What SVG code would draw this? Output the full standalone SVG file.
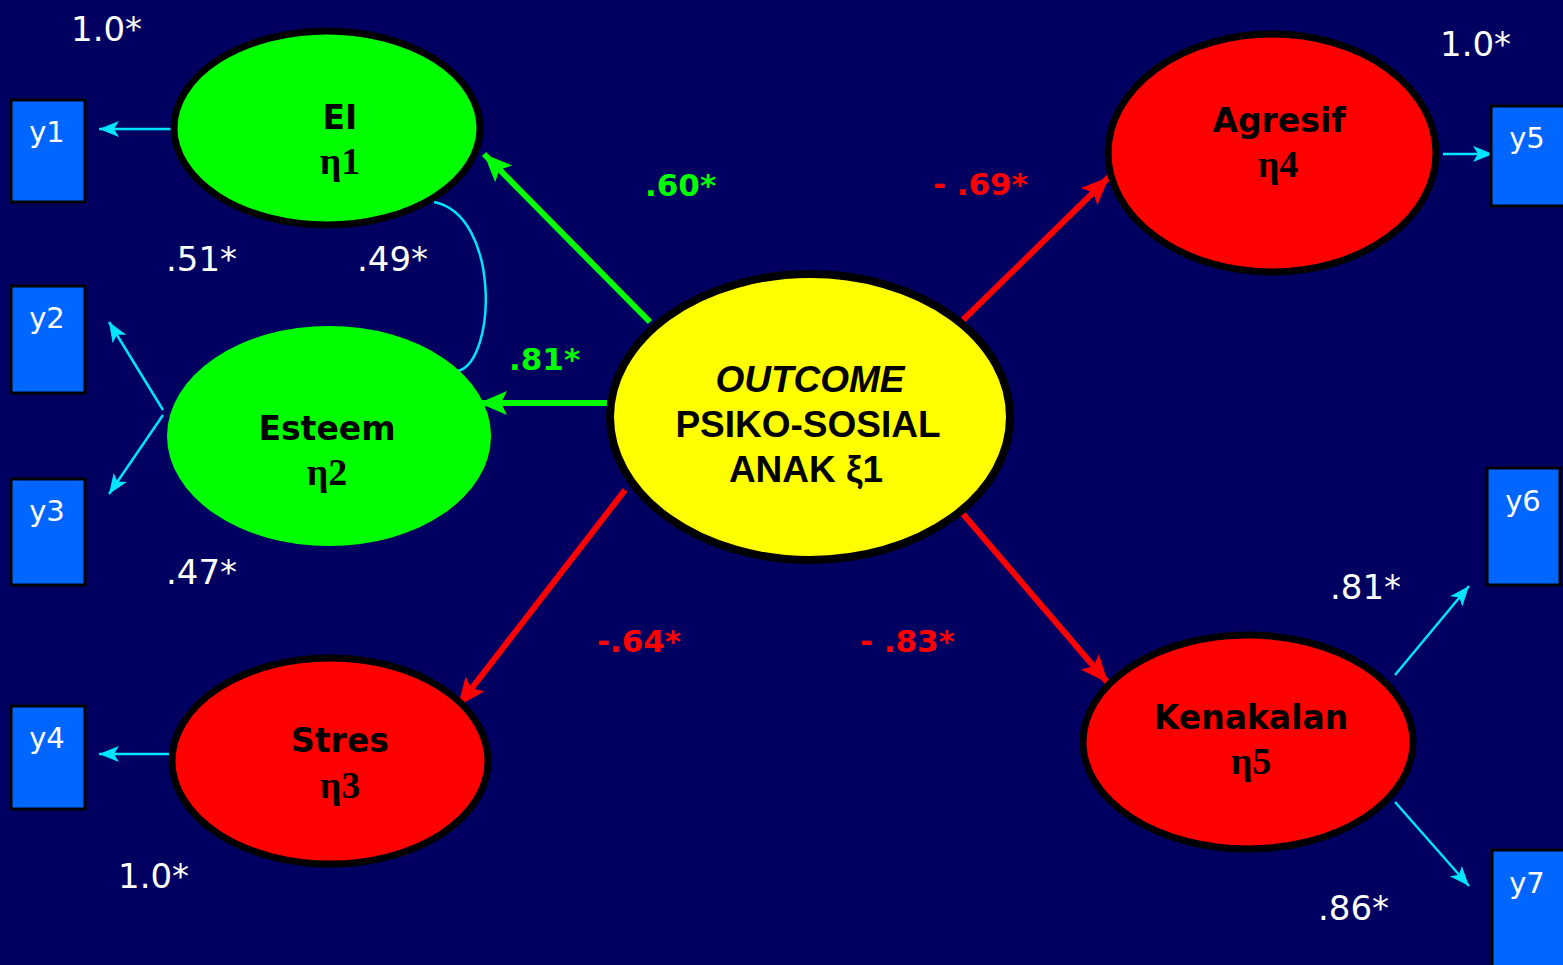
<svg xmlns="http://www.w3.org/2000/svg" width="1563" height="965" viewBox="0 0 1563 965">
<defs>
<style>
.bg{fill:#000060}
.lat{stroke:#000;stroke-width:7}
.box{fill:#0066ff;stroke:#000;stroke-width:3}
.bt{font-family:"DejaVu Sans",Verdana,sans-serif;font-size:29px;fill:#fff;text-anchor:middle}
.num{font-family:"DejaVu Sans",Verdana,sans-serif;font-size:34px;fill:#fff}
.coef{font-family:"DejaVu Sans",Verdana,sans-serif;font-size:31px;font-weight:bold}
.name{font-family:"DejaVu Sans",Verdana,sans-serif;font-size:33px;font-weight:bold;fill:#000;text-anchor:middle}
.eta{font-family:"Liberation Serif","Times New Roman",serif;font-size:38px;font-weight:bold;fill:#000;text-anchor:middle}
.out{font-family:"Liberation Sans",Arial,sans-serif;font-size:37px;font-weight:bold;fill:#000;text-anchor:middle}
.cy{stroke:#00e5ff;stroke-width:2.5;fill:none}
.gr{stroke:#00ff00;stroke-width:6;fill:none}
.rd{stroke:#ff0000;stroke-width:6;fill:none}
</style>
<marker id="ac" markerUnits="userSpaceOnUse" markerWidth="22" markerHeight="22" viewBox="0 0 22 22" refX="20" refY="11" orient="auto"><path d="M0,3 L20,11 L0,19 L5,11 Z" fill="#00e5ff"/></marker>
<marker id="ag" markerUnits="userSpaceOnUse" markerWidth="30" markerHeight="30" viewBox="0 0 30 30" refX="28" refY="15" orient="auto"><path d="M0,3 L28,15 L0,27 L6,15 Z" fill="#00ff00"/></marker>
<marker id="ar" markerUnits="userSpaceOnUse" markerWidth="30" markerHeight="30" viewBox="0 0 30 30" refX="28" refY="15" orient="auto"><path d="M0,3 L28,15 L0,27 L6,15 Z" fill="#ff0000"/></marker>
</defs>
<rect class="bg" x="0" y="0" width="1563" height="965"/>

<g id="connectors">
<line class="gr" x1="650" y1="322" x2="484" y2="154" marker-end="url(#ag)"/>
<line class="gr" x1="607" y1="403" x2="479" y2="403" marker-end="url(#ag)"/>
<line class="rd" x1="963" y1="320" x2="1109" y2="177" marker-end="url(#ar)"/>
<line class="rd" x1="625" y1="490" x2="458" y2="706" marker-end="url(#ar)"/>
<line class="rd" x1="963" y1="514" x2="1108" y2="683" marker-end="url(#ar)"/>
<line class="cy" x1="171" y1="129" x2="99" y2="129" marker-end="url(#ac)"/>
<line class="cy" x1="163" y1="410" x2="109" y2="322" marker-end="url(#ac)"/>
<line class="cy" x1="163" y1="415" x2="109" y2="494" marker-end="url(#ac)"/>
<line class="cy" x1="171" y1="754" x2="99" y2="754" marker-end="url(#ac)"/>
<line class="cy" x1="1443" y1="154" x2="1493" y2="154" marker-end="url(#ac)"/>
<line class="cy" x1="1395" y1="675" x2="1469" y2="586" marker-end="url(#ac)"/>
<line class="cy" x1="1395" y1="802" x2="1469" y2="886" marker-end="url(#ac)"/>
<path class="cy" d="M434,202 C500,215 497,360 458,371"/>
</g>

<g id="y1"><rect class="box" x="11" y="100" width="74" height="102"/><text class="bt" x="47" y="142">y1</text></g>
<g id="y2"><rect class="box" x="11" y="286" width="74" height="107"/><text class="bt" x="47" y="328">y2</text></g>
<g id="y3"><rect class="box" x="11" y="479" width="74" height="106"/><text class="bt" x="47" y="521">y3</text></g>
<g id="y4"><rect class="box" x="11" y="706" width="74" height="103"/><text class="bt" x="47" y="748">y4</text></g>
<g id="y5"><rect class="box" x="1491" y="106" width="76" height="100"/><text class="bt" x="1527" y="148">y5</text></g>
<g id="y6"><rect class="box" x="1487" y="468" width="73" height="117"/><text class="bt" x="1523" y="511">y6</text></g>
<g id="y7"><rect class="box" x="1492" y="850" width="76" height="120"/><text class="bt" x="1527" y="893">y7</text></g>

<g id="EI"><ellipse class="lat" cx="327" cy="128" rx="153" ry="97" fill="#00ff00"/><text class="name" x="340" y="129">EI</text><text class="eta" x="340" y="174">η1</text></g>
<g id="Esteem"><ellipse cx="329" cy="436" rx="162" ry="110" fill="#00ff00"/><text class="name" x="327" y="440">Esteem</text><text class="eta" x="327" y="485">η2</text></g>
<g id="Stres"><ellipse class="lat" cx="330" cy="761" rx="158" ry="103" fill="#ff0000"/><text class="name" x="340" y="752">Stres</text><text class="eta" x="340" y="798">η3</text></g>
<g id="Outcome"><ellipse cx="810" cy="417" rx="200" ry="143" fill="#ffff00" stroke="#000" stroke-width="8"/><text class="out" x="810" y="392" font-style="italic">OUTCOME</text><text class="out" x="808" y="437">PSIKO-SOSIAL</text><text class="out" x="806" y="482">ANAK ξ1</text></g>
<g id="Agresif"><ellipse class="lat" cx="1272" cy="153" rx="164" ry="119" fill="#ff0000"/><text class="name" x="1279" y="132">Agresif</text><text class="eta" x="1278" y="177">η4</text></g>
<g id="Kenakalan"><ellipse class="lat" cx="1248" cy="742" rx="165" ry="107" fill="#ff0000"/><text class="name" x="1251" y="729">Kenakalan</text><text class="eta" x="1251" y="774">η5</text></g>

<g id="labels">
<text class="num" x="71" y="41">1.0*</text>
<text class="num" x="166" y="271">.51*</text>
<text class="num" x="357" y="271">.49*</text>
<text class="num" x="166" y="584">.47*</text>
<text class="num" x="118" y="888">1.0*</text>
<text class="num" x="1440" y="56">1.0*</text>
<text class="num" x="1330" y="599">.81*</text>
<text class="num" x="1318" y="920">.86*</text>
<text class="coef" x="645" y="196" fill="#00ff00">.60*</text>
<text class="coef" x="509" y="370" fill="#00ff00">.81*</text>
<text class="coef" x="933" y="195" fill="#ff0000">- .69*</text>
<text class="coef" x="597" y="652" fill="#ff0000">-.64*</text>
<text class="coef" x="860" y="652" fill="#ff0000">- .83*</text>
</g>
</svg>
